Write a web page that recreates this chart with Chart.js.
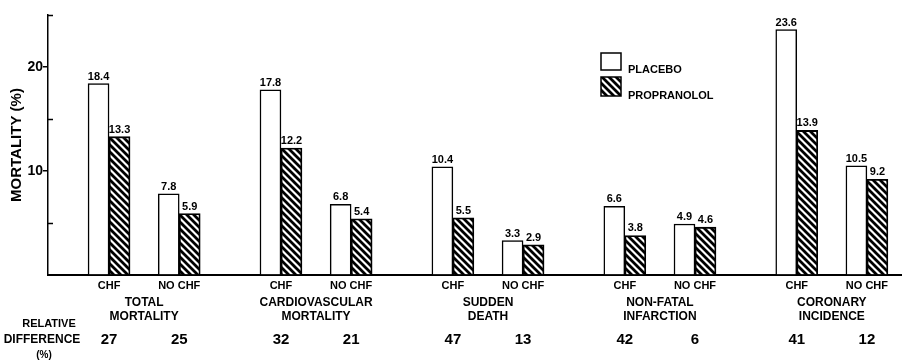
<!DOCTYPE html>
<html><head><meta charset="utf-8">
<script src="https://cdn.jsdelivr.net/npm/chart.js@4.4.1/dist/chart.umd.min.js"></script>
<style>html,body{margin:0;padding:0;background:#fff}#wrap{width:902px;height:364px;position:relative}</style>
</head><body><div id="wrap"><canvas id="c"></canvas></div>
<script>
// ---- data ----
const groupNames = [['TOTAL','MORTALITY'],['CARDIOVASCULAR','MORTALITY'],['SUDDEN','DEATH'],['NON-FATAL','INFARCTION'],['CORONARY','INCIDENCE']];
const subgroups = ['CHF','NO CHF'];
const placebo = [18.4, 7.8, 17.8, 6.8, 10.4, 3.3, 6.6, 4.9, 23.6, 10.5];
const propranolol = [13.3, 5.9, 12.2, 5.4, 5.5, 2.9, 3.8, 4.6, 13.9, 9.2];
const relativeDiff = [27, 25, 32, 21, 47, 13, 42, 6, 41, 12];
const seriesNames = ['PLACEBO','PROPRANOLOL'];
const yLabelled = [10, 20];
const yTitle = 'MORTALITY (%)';
const rowTitle = ['RELATIVE','DIFFERENCE','(%)'];

// ---- layout helpers ----
const GROUP_STEP = 2.45;
const barPos = placebo.map((_, i) => Math.floor(i / 2) * GROUP_STEP + (i % 2));
const groupPos = groupNames.map((_, g) => g * GROUP_STEP + 0.5);
const FONT = "'Liberation Sans', Arial, Helvetica, sans-serif";
const INK = '#000';

function hatch() {
  const s = 7, c = document.createElement('canvas');
  c.width = c.height = s;
  const g = c.getContext('2d');
  g.fillStyle = '#fff'; g.fillRect(0, 0, s, s);
  g.strokeStyle = INK; g.lineWidth = 2.8; g.lineCap = 'square';
  g.beginPath();
  g.moveTo(-1, -1); g.lineTo(s + 1, s + 1);
  g.moveTo(-1, s - 1); g.lineTo(1, s + 1);
  g.moveTo(s - 1, -1); g.lineTo(s + 1, 1);
  g.stroke();
  return document.getElementById('c').getContext('2d').createPattern(c, 'repeat');
}
const hatchPattern = hatch();

const valueLabels = {
  id: 'valueLabels',
  afterDatasetsDraw(chart) {
    const ctx = chart.ctx;
    ctx.save();
    ctx.font = 'bold 11px ' + FONT;
    ctx.fillStyle = INK; ctx.textAlign = 'center'; ctx.textBaseline = 'alphabetic';
    chart.data.datasets.forEach((ds, di) => {
      const src = di === 0 ? placebo : propranolol;
      chart.getDatasetMeta(di).data.forEach((el, i) => {
        ctx.fillText(src[i].toFixed(1), el.x, el.y - 4);
      });
    });
    ctx.restore();
  }
};

const extras = {
  id: 'extras',
  afterDraw(chart) {
    const ctx = chart.ctx, a = chart.chartArea, ys = chart.scales.y;
    ctx.save();
    // inward minor ticks
    ctx.strokeStyle = INK; ctx.lineWidth = 1.5;
    ys.ticks.forEach(t => {
      if (t.value === 0 || yLabelled.includes(t.value)) return;
      const py = Math.round(ys.getPixelForValue(t.value)) + 0.5;
      ctx.beginPath(); ctx.moveTo(a.left, py); ctx.lineTo(a.left + 5, py); ctx.stroke();
    });
    // legend
    const lx = a.left + 553;
    const boxes = [[lx, 53, 20, 17, '#fff'], [lx, 77, 20, 19, hatchPattern]];
    ctx.font = 'bold 11px ' + FONT;
    ctx.textAlign = 'left'; ctx.textBaseline = 'alphabetic';
    boxes.forEach((b, i) => {
      ctx.fillStyle = b[4]; ctx.fillRect(b[0], b[1], b[2], b[3]);
      ctx.strokeStyle = INK; ctx.lineWidth = 1.5; ctx.strokeRect(b[0], b[1], b[2], b[3]);
      ctx.fillStyle = INK;
      ctx.fillText(seriesNames[i], b[0] + 27, b[1] + b[3] + 3);
    });
    // row title at left
    ctx.textAlign = 'center'; ctx.textBaseline = 'middle';
    ctx.font = 'bold 11px ' + FONT;
    ctx.fillText(rowTitle[0], 49, 324);
    ctx.font = 'bold 12px ' + FONT;
    ctx.fillText(rowTitle[1], 42, 340);
    ctx.font = 'bold 10px ' + FONT;
    ctx.fillText(rowTitle[2], 44, 355);
    ctx.restore();
  }
};

function fixSize(prop, v) { return s => { s[prop] = v; }; }
const xCommon = {
  type: 'linear', min: -0.87, max: 11.3, offset: false,
  grid: { display: false, drawTicks: false, offset: false },
};

new Chart(document.getElementById('c'), {
  type: 'bar',
  data: {
    datasets: [
      { label: seriesNames[0], data: placebo.map((v, i) => ({ x: barPos[i], y: v })),
        backgroundColor: '#fff', borderColor: INK, borderWidth: 1.5 },
      { label: seriesNames[1], data: propranolol.map((v, i) => ({ x: barPos[i], y: v })),
        backgroundColor: hatchPattern, borderColor: INK, borderWidth: 1.8 }
    ]
  },
  options: {
    responsive: true, maintainAspectRatio: false, animation: false, devicePixelRatio: 1,
    barThickness: 21,
    layout: { padding: { top: 15, right: 0, bottom: 0, left: 0 } },
    plugins: { legend: { display: false }, tooltip: { enabled: false } },
    scales: {
      x: Object.assign({}, xCommon, {
        weight: 0, position: 'bottom',
        border: { display: true, color: INK, width: 2 },
        afterBuildTicks: s => { s.ticks = barPos.map(v => ({ value: v })); },
        afterFit: fixSize('height', 18),
        ticks: { autoSkip: false, maxRotation: 0, padding: 4, color: INK,
          font: { family: FONT, size: 11, weight: 'bold' },
          callback: (v, i) => subgroups[i % 2] }
      }),
      xg: Object.assign({}, xCommon, {
        weight: 1, position: 'bottom',
        border: { display: false },
        afterBuildTicks: s => { s.ticks = groupPos.map(v => ({ value: v })); },
        afterFit: fixSize('height', 32),
        ticks: { autoSkip: false, maxRotation: 0, padding: 3, color: INK,
          font: { family: FONT, size: 12, weight: 'bold', lineHeight: 1.17 },
          callback: (v, i) => groupNames[i] }
      }),
      xr: Object.assign({}, xCommon, {
        weight: 2, position: 'bottom',
        border: { display: false },
        afterBuildTicks: s => { s.ticks = barPos.map(v => ({ value: v })); },
        afterFit: fixSize('height', 39),
        ticks: { autoSkip: false, maxRotation: 0, padding: 6, color: INK,
          font: { family: FONT, size: 15, weight: 'bold', lineHeight: 1.2 },
          callback: (v, i) => String(relativeDiff[i]) }
      }),
      y: {
        min: 0, max: 25,
        afterFit: fixSize('width', 48),
        border: { display: true, color: INK, width: 1.5 },
        grid: { drawOnChartArea: false, drawTicks: true, tickLength: 5, lineWidth: 1.5,
          color: c => (c.tick && yLabelled.includes(c.tick.value)) ? INK : 'rgba(0,0,0,0)' },
        ticks: { stepSize: 5, padding: 0, color: INK,
          font: { family: FONT, size: 14, weight: 'bold' },
          callback: v => yLabelled.includes(v) ? String(v) : '' },
        title: { display: true, text: yTitle, color: INK, padding: { top: 8, bottom: 0 },
          font: { family: FONT, size: 15, weight: 'bold' } }
      }
    }
  },
  plugins: [valueLabels, extras]
});
</script>
</body></html>
